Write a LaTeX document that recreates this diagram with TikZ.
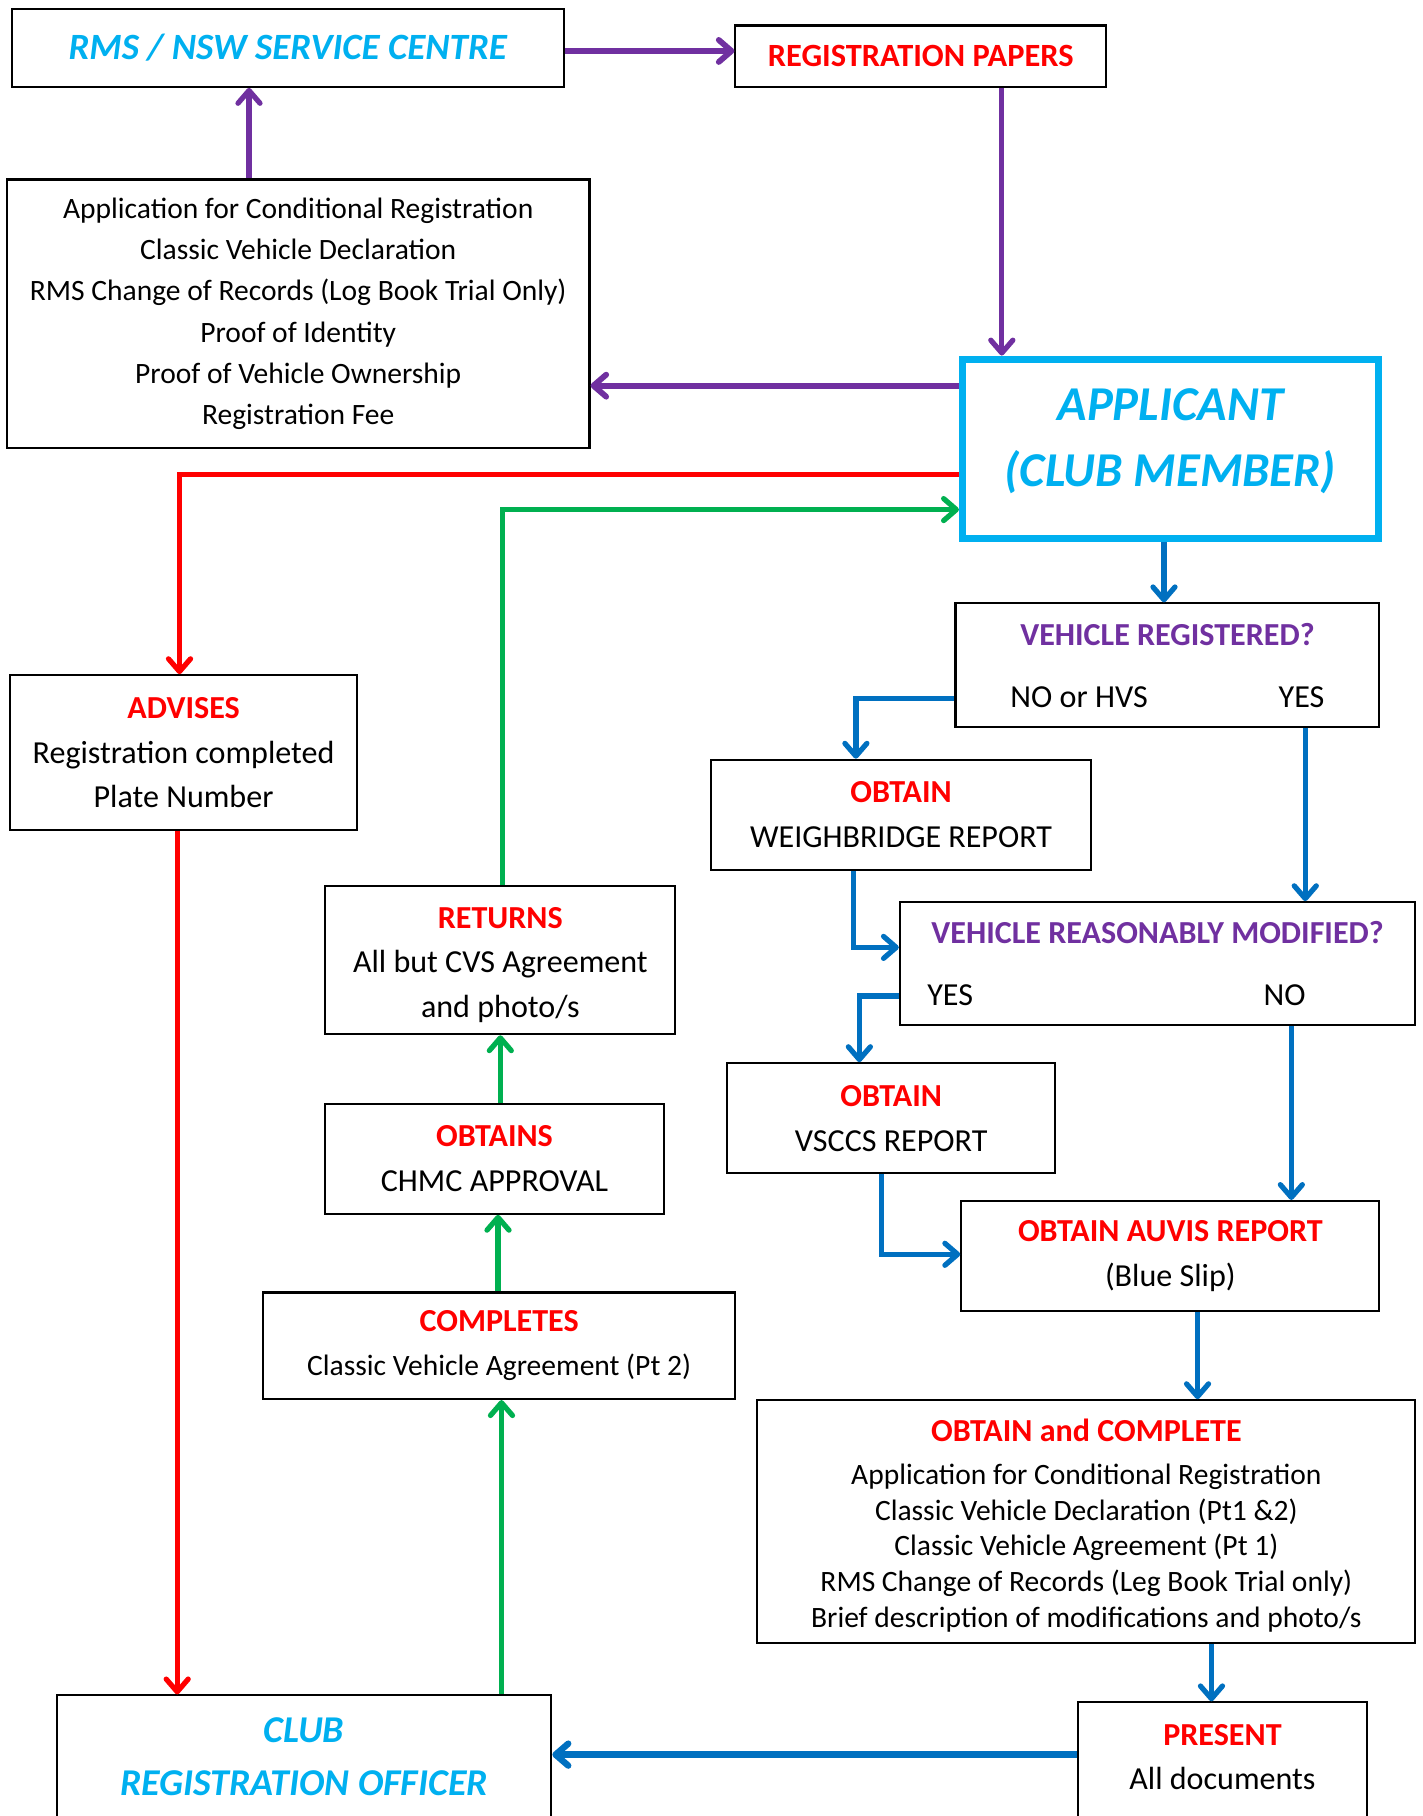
\documentclass[tikz,border=0pt]{standalone}
\usepackage{fontspec}
\setmainfont{Carlito}
\usetikzlibrary{arrows.meta}
\definecolor{titlecyan}{HTML}{00B0F0}
\definecolor{headred}{HTML}{FF0000}
\definecolor{linkpurple}{HTML}{7030A0}
\definecolor{flowblue}{HTML}{0070C0}
\definecolor{flowgreen}{HTML}{00B050}
\begin{document}
\begin{tikzpicture}[x=1pt, y=-1pt,
    box/.style={draw, line width=1.8pt, rectangle, align=center, inner sep=0pt},
    link/.style={line width=4.5pt, -{Straight Barb[length=11pt, width=19pt, round]}}]
    \useasboundingbox (0,0) rectangle (1228,1568);
    \fill [white] (0,0) rectangle (1228,1568);

    \node (rms) [box, minimum width=477, minimum height=67, text=titlecyan, font=\fontsize{32}{38}\selectfont\bfseries\itshape] at (248.5,41.5) {RMS / NSW SERVICE CENTRE};
    \node (papers) [box, minimum width=320, minimum height=53, text=headred, font=\fontsize{28}{32}\selectfont\bfseries] at (795,48.5) {REGISTRATION PAPERS};
    \node (docs) [box, minimum width=503, minimum height=232, font=\fontsize{25.5}{35.6}\selectfont] at (257.5,271) {Application for Conditional Registration\\Classic Vehicle Declaration\\RMS Change of Records (Log Book Trial Only)\\Proof of Identity\\Proof of Vehicle Ownership\\Registration Fee};
    \node (applicant) [draw=titlecyan, line width=6pt, rectangle, align=center, inner sep=0pt, minimum width=359, minimum height=155, text depth=20pt, text=titlecyan, font=\fontsize{42}{57}\selectfont\bfseries\itshape] at (1010.5,387.5) {APPLICANT\\(CLUB MEMBER)};
    \node (advises) [box, minimum width=299, minimum height=134, font=\fontsize{27.7}{38.5}\selectfont] at (158.5,650) {\textcolor{headred}{\bfseries ADVISES}\\Registration completed\\Plate Number};
    \node (vreg) [box, minimum width=366, minimum height=107, font=\fontsize{27.7}{53}\selectfont] at (1008,574.5) {\textcolor{linkpurple}{\bfseries VEHICLE REGISTERED?}\\NO or HVS\hspace{113pt}YES};
    \node (weigh) [box, minimum width=328, minimum height=95, font=\fontsize{27.7}{39}\selectfont] at (778,703.5) {\textcolor{headred}{\bfseries OBTAIN}\\WEIGHBRIDGE REPORT};
    \node (vmod) [box, minimum width=445, minimum height=106, font=\fontsize{27.7}{53}\selectfont] at (999.5,832) {\textcolor{linkpurple}{\bfseries VEHICLE REASONABLY MODIFIED?}\\\hspace*{-71pt}YES\hspace{251pt}NO};
    \node (vsccs) [box, minimum width=283, minimum height=95, font=\fontsize{27.7}{39}\selectfont] at (769.5,965.5) {\textcolor{headred}{\bfseries OBTAIN}\\VSCCS REPORT};
    \node (auvis) [box, minimum width=361, minimum height=95, font=\fontsize{27.7}{39}\selectfont] at (1010.5,1084.5) {\textcolor{headred}{\bfseries OBTAIN AUVIS REPORT}\\(Blue Slip)};
    \node (complete) [box, minimum width=568, minimum height=210, font=\fontsize{25.5}{31}\selectfont] at (938,1314) {\rule{0pt}{26pt}\textcolor{headred}{\fontsize{27.7}{31}\selectfont\bfseries OBTAIN and COMPLETE}\\[6pt]Application for Conditional Registration\\Classic Vehicle Declaration (Pt1 \&2)\\Classic Vehicle Agreement (Pt 1)\\RMS Change of Records (Leg Book Trial only)\\Brief description of modifications and photo/s};
    \node (present) [box, anchor=north, minimum width=249, inner ysep=19pt, text depth=80pt, font=\fontsize{27.7}{38}\selectfont] at (1055.5,1469) {\textcolor{headred}{\bfseries PRESENT}\\All documents};
    \node (club) [box, anchor=north, minimum width=427, inner ysep=19pt, text depth=80pt, text=titlecyan, font=\fontsize{32.7}{46}\selectfont\bfseries\itshape] at (262.5,1463) {CLUB\\REGISTRATION OFFICER};
    \node (returns) [box, minimum width=302, minimum height=128, font=\fontsize{27.7}{38.5}\selectfont] at (432,829) {\rule{0pt}{26pt}\textcolor{headred}{\bfseries RETURNS}\\All but CVS Agreement\\and photo/s};
    \node (obtains) [box, minimum width=292, minimum height=95, font=\fontsize{27.7}{39}\selectfont] at (427,1000.5) {\textcolor{headred}{\bfseries OBTAINS}\\CHMC APPROVAL};
    \node (completes) [box, minimum width=408, minimum height=92, font=\fontsize{25.5}{38}\selectfont] at (431,1162) {\textcolor{headred}{\fontsize{27.7}{38}\selectfont\bfseries COMPLETES}\\Classic Vehicle Agreement (Pt 2)};

    \draw [link, linkpurple, line width=5pt] (rms.east |- 0,44) -- (papers.west |- 0,44);
    \draw [link, linkpurple] (docs.north -| 215,0) -- (rms.south -| 215,0);
    \draw [link, linkpurple] (papers.south -| 865,0) -- (applicant.north -| 865,0);
    \draw [link, linkpurple, line width=5pt] (applicant.west |- 0,333) -- (docs.east |- 0,333);

    \draw [link, headred] (applicant.west |- 0,410) -| (advises.north -| 155,0);
    \draw [link, headred] (advises.south -| 153,0) -- (club.north -| 153,0);

    \draw [link, flowgreen] (club.north -| 433,0) -- (completes.south -| 433,0);
    \draw [link, flowgreen] (completes.north -| 430,0) -- (obtains.south -| 430,0);
    \draw [link, flowgreen] (obtains.north -| 432,0) -- (returns.south -| 432,0);
    \draw [link, flowgreen] (returns.north -| 434,0) |- (applicant.west |- 0,440);

    \draw [link, flowblue] (applicant.south -| 1005,0) -- (vreg.north -| 1005,0);
    \draw [link, flowblue] (vreg.west |- 0,603) -| (weigh.north -| 739,0);
    \draw [link, flowblue] (vreg.south -| 1127,0) -- (vmod.north -| 1127,0);
    \draw [link, flowblue] (weigh.south -| 737,0) |- (vmod.west |- 0,818);
    \draw [link, flowblue] (vmod.west |- 0,860) -| (vsccs.north -| 742,0);
    \draw [link, flowblue] (vmod.south -| 1115,0) -- (auvis.north -| 1115,0);
    \draw [link, flowblue] (vsccs.south -| 761,0) |- (auvis.west |- 0,1083);
    \draw [link, flowblue] (auvis.south -| 1034,0) -- (complete.north -| 1034,0);
    \draw [link, flowblue] (complete.south -| 1046,0) -- (present.north -| 1046,0);
    \draw [link, flowblue, line width=5.5pt] (present.west |- 0,1515) -- (club.east |- 0,1515);
\end{tikzpicture}
\end{document}
